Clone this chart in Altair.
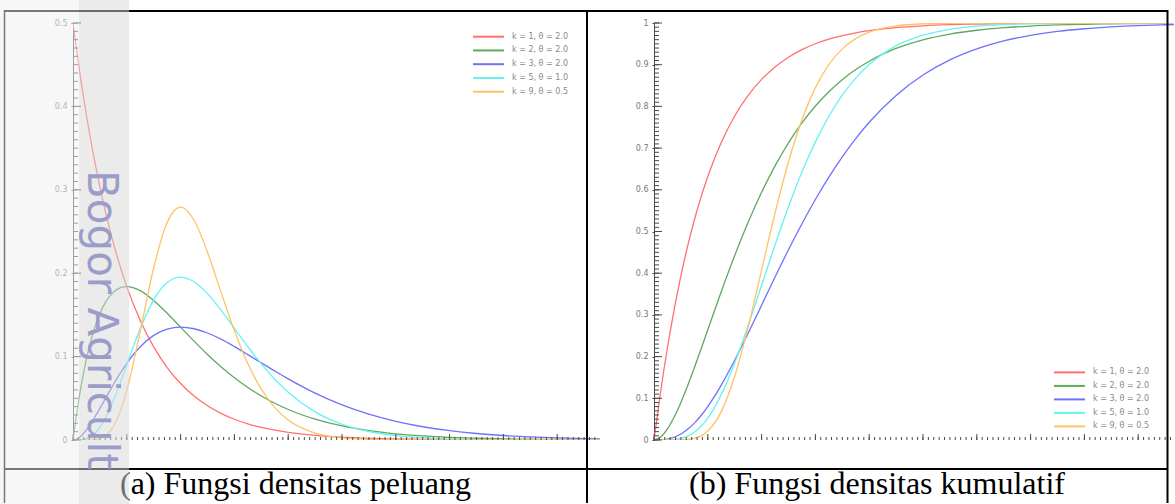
import altair as alt
import pandas as pd

# ---------------- data ----------------
LABELS = ["k = 1, θ = 2.0", "k = 2, θ = 2.0", "k = 3, θ = 2.0", "k = 5, θ = 1.0", "k = 9, θ = 0.5"]
COLORS = ["#ff7070", "#5fa85f", "#7070ff", "#66f2f2", "#ffc266"]

X = [0, 0.25, 0.5, 0.75, 1, 1.25, 1.5, 1.75, 2, 2.5, 3, 3.5, 4, 4.5, 5, 5.5, 6, 6.5, 7, 7.5, 8,
     9, 10, 11, 12, 13, 14, 15, 16, 17, 18, 19, 20]

PDF_K1 = [0.5, 0.4412, 0.3894, 0.3436, 0.3033, 0.2676, 0.2362, 0.2084, 0.1839, 0.1433, 0.1116, 0.0869,
          0.0677, 0.0527, 0.0410, 0.0320, 0.0249, 0.0194, 0.0151, 0.0118, 0.0092,
          0.0056, 0.0034, 0.0020, 0.0012, 0.0008, 0.0005, 0.0003, 0.0002, 0.0001, 0.0001, 0.0, 0.0]
PDF_K2 = [0, 0.0552, 0.0974, 0.1289, 0.1516, 0.1673, 0.1771, 0.1824, 0.1839, 0.1791, 0.1673, 0.1520,
          0.1353, 0.1186, 0.1026, 0.0879, 0.0747, 0.0630, 0.0528, 0.0441, 0.0366,
          0.0250, 0.0168, 0.0112, 0.0074, 0.0049, 0.0032, 0.0021, 0.0013, 0.0009, 0.0006, 0.0004, 0.0002]
PDF_K3 = [0, 0.0034, 0.0122, 0.0242, 0.0379, 0.0523, 0.0664, 0.0798, 0.0920, 0.1119, 0.1255, 0.1330,
          0.1353, 0.1334, 0.1283, 0.1209, 0.1120, 0.1024, 0.0925, 0.0827, 0.0733,
          0.0562, 0.0421, 0.0309, 0.0223, 0.0159, 0.0112, 0.0078, 0.0054, 0.0037, 0.0025, 0.0017, 0.0011]
PDF_K5 = [0, 0.0001, 0.0016, 0.0062, 0.0153, 0.0291, 0.0471, 0.0679, 0.0902, 0.1336, 0.1680, 0.1888,
          0.1954, 0.1898, 0.1755, 0.1558, 0.1339, 0.1118, 0.0912, 0.0729, 0.0573,
          0.0337, 0.0189, 0.0102, 0.0053, 0.0027, 0.0013, 0.0007, 0.0003, 0.0001, 0.0001, 0.0, 0.0]
PDF_K9 = [0, 0, 0.0, 0.0003, 0.0017, 0.0062, 0.0162, 0.0337, 0.0595, 0.1306, 0.2065, 0.2608,
          0.2792, 0.2635, 0.2252, 0.1776, 0.1310, 0.0915, 0.0609, 0.0389, 0.0240,
          0.0083, 0.0026, 0.0008, 0.0002, 0.0001, 0, 0, 0, 0, 0, 0, 0]

CDF_K1 = [0, 0.1175, 0.2212, 0.3127, 0.3935, 0.4647, 0.5276, 0.5831, 0.6321, 0.7135, 0.7769, 0.8262,
          0.8647, 0.8946, 0.9179, 0.9361, 0.9502, 0.9612, 0.9698, 0.9765, 0.9817,
          0.9889, 0.9933, 0.9959, 0.9975, 0.9985, 0.9991, 0.9994, 0.9997, 0.9998, 0.9999, 0.9999, 1.0]
CDF_K2 = [0, 0.0072, 0.0265, 0.0550, 0.0902, 0.1302, 0.1733, 0.2184, 0.2642, 0.3554, 0.4422, 0.5221,
          0.5940, 0.6575, 0.7127, 0.7603, 0.8009, 0.8352, 0.8641, 0.8883, 0.9084,
          0.9389, 0.9596, 0.9734, 0.9826, 0.9887, 0.9927, 0.9953, 0.9970, 0.9981, 0.9988, 0.9992, 0.9995]
CDF_K3 = [0, 0.0003, 0.0022, 0.0066, 0.0144, 0.0257, 0.0405, 0.0588, 0.0803, 0.1315, 0.1912, 0.2560,
          0.3233, 0.3907, 0.4562, 0.5185, 0.5768, 0.6304, 0.6792, 0.7229, 0.7619,
          0.8264, 0.8753, 0.9116, 0.9380, 0.9570, 0.9704, 0.9797, 0.9862, 0.9907, 0.9938, 0.9958, 0.9972]
CDF_K5 = [0, 0.0, 0.0002, 0.0011, 0.0037, 0.0091, 0.0186, 0.0329, 0.0526, 0.1088, 0.1847, 0.2746,
          0.3712, 0.4679, 0.5595, 0.6425, 0.7149, 0.7763, 0.8270, 0.8679, 0.9004,
          0.9450, 0.9707, 0.9849, 0.9924, 0.9963, 0.9982, 0.9991, 0.9996, 0.9998, 0.9999, 1.0, 1.0]
CDF_K9 = [0, 0, 0.0, 0.0, 0.0002, 0.0012, 0.0038, 0.0099, 0.0214, 0.0681, 0.1528, 0.2709,
          0.4075, 0.5443, 0.6672, 0.7680, 0.8450, 0.9002, 0.9379, 0.9626, 0.9780,
          0.9929, 0.9979, 0.9994, 0.9998, 1.0, 1.0, 1.0, 1.0, 1.0, 1.0, 1.0, 1.0]

X_TICKS = [0, 2, 4, 6, 8, 10, 12, 14, 16, 18]
Y_TICKS_PDF = [0, 0.1, 0.2, 0.3, 0.4, 0.5]
Y_TICKS_CDF = [0, 0.1, 0.2, 0.3, 0.4, 0.5, 0.6, 0.7, 0.8, 0.9, 1]

CAPTION_A = "(a) Fungsi densitas peluang"
CAPTION_B = "(b) Fungsi densitas kumulatif"
WATERMARK = "Bogor Agricult"


def to_long(series):
    rows = []
    for lab, ys in zip(LABELS, series):
        for xv, yv in zip(X, ys):
            rows.append({"x": xv, "y": yv, "label": lab})
    return pd.DataFrame(rows)


df_pdf = to_long([PDF_K1, PDF_K2, PDF_K3, PDF_K5, PDF_K9])
df_cdf = to_long([CDF_K1, CDF_K2, CDF_K3, CDF_K5, CDF_K9])

# ---------------- layout ----------------
H = 417
W1, W2 = 527, 520
PX_PER_UNIT = 26.9
AX = "#4a4a4a"
LB = "#777777"
one = pd.DataFrame({"d": [0]})


def make_panel(df, W, ymax, ymajor, ystep, leg_lo, leg_hi, caption, cap_x, extra):
    xmax = W / PX_PER_UNIT
    xs = alt.Scale(domain=[0, xmax], nice=False, zero=False)
    ys = alt.Scale(domain=[0, ymax], nice=False, zero=False)
    color = alt.Color("label:N", scale=alt.Scale(domain=LABELS, range=COLORS), legend=None)

    lines = alt.Chart(df).mark_line(clip=True, strokeWidth=1.3, interpolate="monotone").encode(
        x=alt.X("x:Q", scale=xs, axis=alt.Axis(
            values=X_TICKS, format="d", title=None, grid=False, tickSize=2, tickColor=AX,
            domainColor=AX, labelColor=LB, labelFont="DejaVu Sans", labelFontSize=8,
            labelPadding=7, labelFlush=False)),
        y=alt.Y("y:Q", scale=ys, axis=alt.Axis(
            values=ymajor, format="~f", title=None, grid=False, tickSize=2, tickColor=AX,
            domainColor=AX, labelColor=LB, labelFont="DejaVu Sans", labelFontSize=8,
            labelPadding=4, labelFlush=False)),
        color=color,
    )

    minor_x = [i / 5 for i in range(0, 200) if i / 5 <= xmax]
    n_y = int(round(ymax / ystep))
    minor_y = [i * ystep for i in range(0, n_y + 1)]

    xminor = alt.Chart(pd.DataFrame({"v": minor_x})).mark_rule(color=AX, strokeWidth=1).encode(
        x=alt.X("v:Q", scale=xs, axis=None), y=alt.value(H), y2=alt.value(H - 3))
    xmajor = alt.Chart(pd.DataFrame({"v": X_TICKS})).mark_rule(color=AX, strokeWidth=1).encode(
        x=alt.X("v:Q", scale=xs, axis=None), y=alt.value(H), y2=alt.value(H - 6))
    yminor = alt.Chart(pd.DataFrame({"v": minor_y})).mark_rule(color=AX, strokeWidth=1).encode(
        y=alt.Y("v:Q", scale=ys, axis=None), x=alt.value(0), x2=alt.value(5))
    ymajor_in = alt.Chart(pd.DataFrame({"v": ymajor})).mark_rule(color=AX, strokeWidth=1).encode(
        y=alt.Y("v:Q", scale=ys, axis=None), x=alt.value(0), x2=alt.value(8))

    df_leg = pd.DataFrame({"label": LABELS, "row": list(range(len(LABELS)))})
    leg_y = alt.Y("row:Q", scale=alt.Scale(domain=[0, len(LABELS) - 1], range=[leg_lo, leg_hi],
                                           nice=False, zero=False), axis=None)
    leg_rule = alt.Chart(df_leg).mark_rule(strokeWidth=2).encode(
        x=alt.value(400), x2=alt.value(431), y=leg_y, color=color)
    leg_text = alt.Chart(df_leg).mark_text(
        align="left", baseline="middle", font="DejaVu Sans", fontSize=8, color="#888888").encode(
        x=alt.value(439), y=leg_y, text="label:N")

    cap = alt.Chart(one).mark_text(
        align="center", baseline="alphabetic", font="Liberation Serif", fontSize=32,
        color="black").encode(x=alt.value(cap_x), y=alt.value(471), text=alt.value(caption))

    layers = [lines, xminor, xmajor, yminor, ymajor_in, leg_rule, leg_text, cap] + extra
    return alt.layer(*layers).resolve_scale(y="independent").properties(width=W, height=H)


def hline(y, x1, x2, w=2):
    return alt.Chart(one).mark_rule(color="black", strokeWidth=w).encode(
        x=alt.value(x1), x2=alt.value(x2), y=alt.value(y))


def vline(x, w=2):
    return alt.Chart(one).mark_rule(color="black", strokeWidth=w).encode(
        x=alt.value(x), y=alt.value(-13), y2=alt.value(480))


band1 = alt.Chart(one).mark_rect(color="#efefef", opacity=0.5).encode(
    x=alt.value(-73), x2=alt.value(6), y=alt.value(-23), y2=alt.value(481))
band2 = alt.Chart(one).mark_rect(color="#d7d7d7", opacity=0.5).encode(
    x=alt.value(6), x2=alt.value(56), y=alt.value(-23), y2=alt.value(481))
wm = alt.Chart(one).mark_text(
    angle=90, align="left", baseline="alphabetic", font="DejaVu Sans", fontSize=42,
    color="#9c9cc8").encode(x=alt.value(15), y=alt.value(147), text=alt.value(WATERMARK))

left_extra = [
    hline(-12, -69, 1095), hline(446, -69, 1095),
    vline(-68.5, 1.5), vline(514),
    band1, band2, wm,
]
right_extra = [vline(513.5)]

left = make_panel(df_pdf, W1, 0.5, Y_TICKS_PDF, 0.01, 13.7, 68.7, CAPTION_A, 222.5, left_extra)
right = make_panel(df_cdf, W2, 1.0, Y_TICKS_CDF, 0.01, 349.4, 403.4, CAPTION_B, 223, right_extra)

chart = alt.hconcat(left, right, spacing=54).properties(
    bounds="flush", padding=0, background="white"
).configure_view(stroke=None)

chart.save("out.html", embed_options={"renderer": "svg", "actions": False})
